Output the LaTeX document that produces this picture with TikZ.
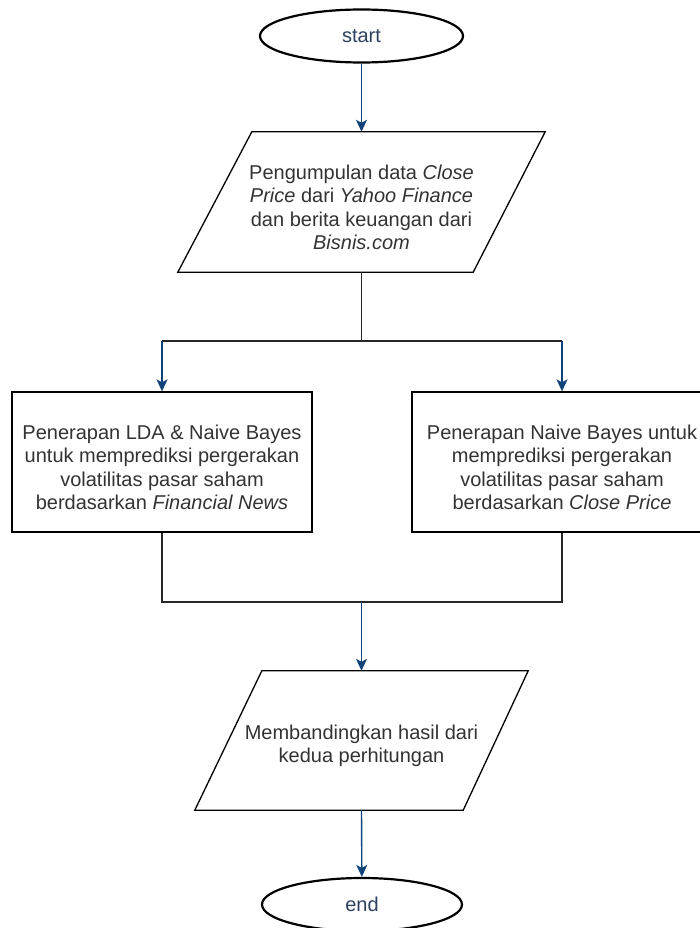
\documentclass[tikz,border=0pt]{standalone}
\usepackage{fontspec}
\setmainfont{Liberation Sans}
\usetikzlibrary{shapes.geometric,arrows.meta}
\definecolor{txt}{RGB}{51,51,51}
\definecolor{arr}{RGB}{16,67,122}
\definecolor{term}{RGB}{45,65,95}
\definecolor{lin}{RGB}{40,40,40}
\begin{document}
\begin{tikzpicture}[x=1pt,y=-1pt,
  font=\fontsize{20}{23.5}\selectfont,
  terminal/.style={ellipse, draw=black, line width=2.2pt, inner sep=0pt,
    minimum width=203pt, minimum height=53pt, text=term},
  procbox/.style={rectangle, draw=black, line width=1.3pt, minimum width=300pt,
    minimum height=140pt},
  iobox/.style={rectangle, draw=none},
  inner/.style={align=center, text=txt, yshift=-5.5pt, inner sep=0pt},
  plain/.style={draw=lin, line width=1.4pt},
  flow/.style={draw=arr, line width=1.4pt, -{Stealth[length=12pt,width=11pt,inset=3pt]}}]
\useasboundingbox (0,0) rectangle (700,928);
\fill[white] (0,0) rectangle (700,928);

\node[terminal] (start) at (361.5,36) {start};

\node[iobox, minimum width=367pt, minimum height=140pt,
  label={[inner, name=p1text]center:{Pengumpulan data \textit{Close}\\ \textit{Price} dari \textit{Yahoo Finance}\\ dan berita keuangan dari\\ \textit{Bisnis.com}}}] (p1) at (361.5,202) {};
\draw[line width=1.3pt] (p1.south west) -- ([xshift=-72pt]p1.south east) -- (p1.north east)
  -- ([xshift=74pt]p1.north west) -- cycle;

\node[procbox,
  label={[inner, name=lefttext]center:{Penerapan LDA \& Naive Bayes\\ untuk memprediksi pergerakan\\ volatilitas pasar saham\\ berdasarkan \textit{Financial News}}}] (left) at (162,462) {};
\node[procbox,
  label={[inner, name=righttext]center:{Penerapan Naive Bayes untuk\\ memprediksi pergerakan\\ volatilitas pasar saham\\ berdasarkan \textit{Close Price}}}] (right) at (562,462) {};

\node[iobox, minimum width=333pt, minimum height=139pt,
  label={[inner, name=p2text]center:{Membandingkan hasil dari\\ kedua perhitungan}}] (p2) at (361.5,740.5) {};
\draw[line width=1.3pt] (p2.south west) -- ([xshift=-65pt]p2.south east) -- (p2.north east)
  -- ([xshift=67pt]p2.north west) -- cycle;

\node[terminal, minimum width=200pt] (end) at (362,904.5) {end};

\coordinate (j1) at (361.5,341);
\coordinate (jl) at (162,341);
\coordinate (jr) at (562,341);
\coordinate (bl) at (162,602);
\coordinate (br) at (562,602);
\coordinate (j2) at (361.5,602);

\draw[flow] (start) -- (p1.north);
\draw[plain] (p1.south) -- (j1);
\draw[plain] (jl) -- (jr);
\draw[flow] (jl) -- (left.north);
\draw[flow] (jr) -- (right.north);
\draw[plain] (left.south) -- (bl) -- (br) -- (right.south);
\draw[flow] (j2) -- (p2.north);
\draw[flow] (p2.south) -- (end);
\end{tikzpicture}
\end{document}
